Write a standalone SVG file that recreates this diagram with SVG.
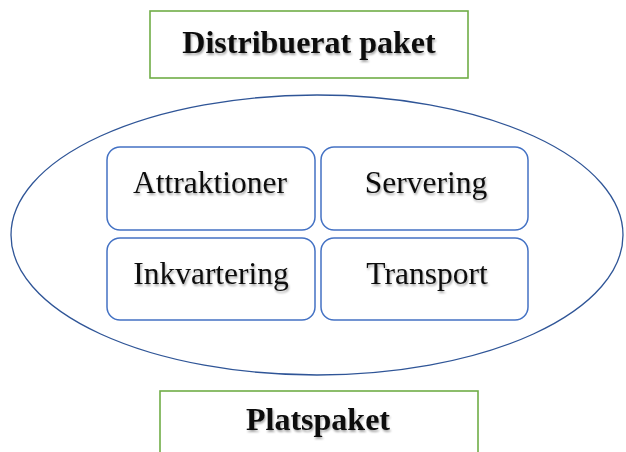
<svg xmlns="http://www.w3.org/2000/svg" width="626" height="452" viewBox="0 0 626 452">
<style>
.green{fill:#ffffff;stroke:#70AD47;stroke-width:1.6}
.item{fill:#ffffff;stroke:#4472C4;stroke-width:1.5}
.oval{fill:#ffffff;stroke:#2F5597;stroke-width:1.3}
.lbl{font-family:"Liberation Serif","Times New Roman",serif;font-size:31.5px;fill:#111111;text-anchor:middle;filter:url(#soft)}
.bold{font-weight:bold;font-size:32px}
</style>
<defs>
<filter id="soft" x="-5%" y="-20%" width="110%" height="140%">
<feGaussianBlur in="SourceAlpha" stdDeviation="1.2"/>
<feOffset dx="1" dy="1.5" result="b"/>
<feComponentTransfer><feFuncA type="linear" slope="0.35"/></feComponentTransfer>
<feMerge><feMergeNode/><feMergeNode in="SourceGraphic"/></feMerge>
</filter>
</defs>
<rect width="626" height="452" fill="#ffffff"/>
<g id="distribuerat-paket">
<rect class="green" x="150" y="11" width="318" height="67"/>
<text class="lbl bold" x="309" y="53">Distribuerat paket</text>
</g>
<g id="platspaket-oval">
<ellipse class="oval" cx="317" cy="235" rx="306" ry="140"/>
</g>
<g id="attraktioner">
<rect class="item" x="107" y="147" width="208" height="83" rx="13"/>
<text class="lbl" x="210" y="193">Attraktioner</text>
</g>
<g id="servering">
<rect class="item" x="321" y="147" width="207" height="83" rx="13"/>
<text class="lbl" x="426" y="193">Servering</text>
</g>
<g id="inkvartering">
<rect class="item" x="107" y="238" width="208" height="82" rx="13"/>
<text class="lbl" x="211" y="284">Inkvartering</text>
</g>
<g id="transport">
<rect class="item" x="321" y="238" width="207" height="82" rx="13"/>
<text class="lbl" x="427" y="284">Transport</text>
</g>
<g id="platspaket">
<rect class="green" x="160" y="391" width="318" height="70"/>
<text class="lbl bold" x="318" y="430">Platspaket</text>
</g>
<g id="connectors"></g>
</svg>
